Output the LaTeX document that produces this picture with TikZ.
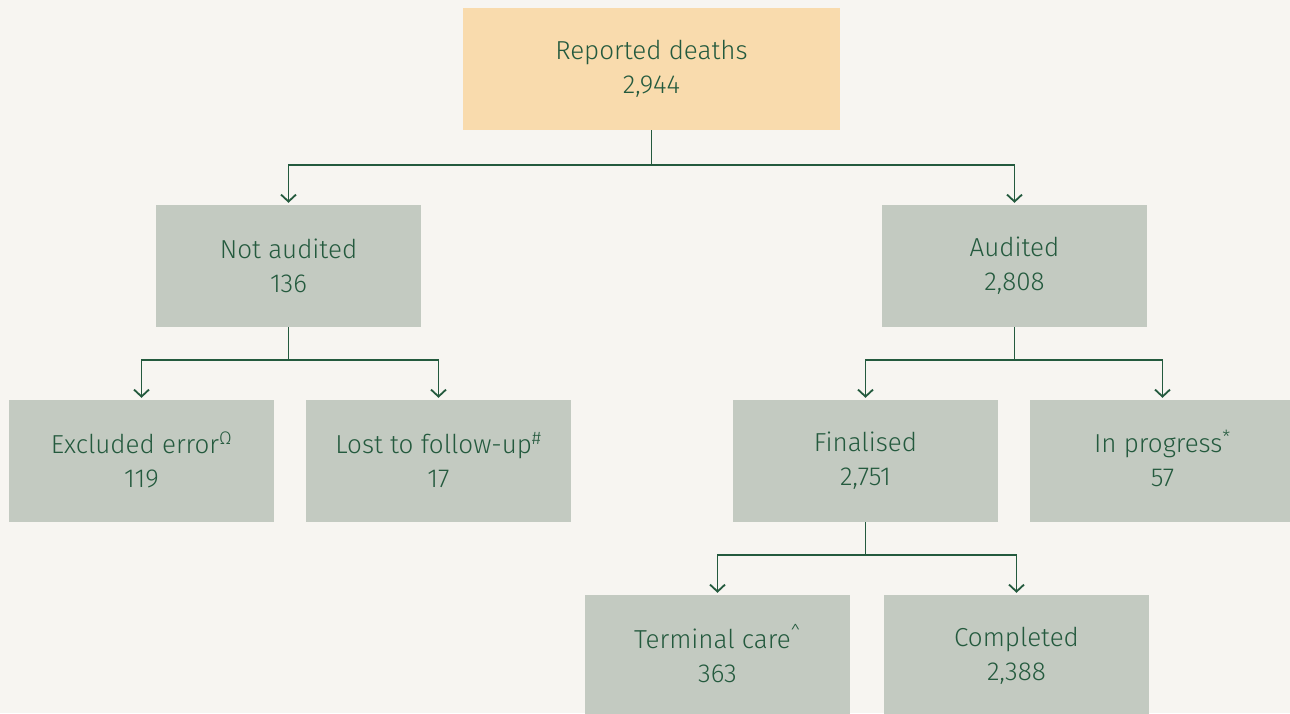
\documentclass[tikz,border=0pt]{standalone}
\usepackage{fontspec}
\setmainfont{Fira Sans}[UprightFont={* Light}]
\usetikzlibrary{arrows.meta}
\definecolor{bg}{HTML}{F7F5F1}
\definecolor{boxg}{HTML}{C3CAC1}
\definecolor{boxo}{HTML}{F9DBAD}
\definecolor{ink}{HTML}{245A3E}
\newcommand{\fnmark}[1]{\smash{\textsuperscript{#1}}}
\begin{document}
\begin{tikzpicture}[x=1pt,y=-1pt,
  box/.style={fill=boxg, minimum width=265pt, minimum height=122pt, inner sep=0pt, text=ink, align=center, font=\fontsize{26}{34}\selectfont},
  conn/.style={draw=ink, line width=1.8pt},
  arr/.style={conn, -{Straight Barb[length=7pt,width=15pt]}, shorten >=2pt}]
\useasboundingbox (0,0) rectangle (1290,713);
\clip (0,0) rectangle (1290,713);
\fill[bg] (0,0) rectangle (1290,713);
\node[box, fill=boxo, minimum width=377pt] (rep) at (651.5,69) {Reported deaths\\2,944};
\node[box] (na) at (288.5,266) {Not audited\\136};
\node[box] (au) at (1014.5,266) {Audited\\2,808};
\node[box] (ex) at (141.5,461) {Excluded error\fnmark{Ω}\\119};
\node[box] (lo) at (438.5,461) {Lost to follow-up\fnmark{\#}\\17};
\node[box] (fi) at (865.5,461) {Finalised\\2,751};
\node[box] (ip) at (1162.5,461) {In progress\fnmark{*}\\57};
\node[box] (te) at (717.5,656) {Terminal care\fnmark{\char"5E}\\363};
\node[box] (co) at (1016.5,656) {Completed\\2,388};
% connectors
\draw[conn] (rep.south) -- ++(0,35) coordinate (j1);
\draw[arr] (j1) -| (na.north);
\draw[arr] (j1) -| (au.north);
\draw[conn] (na.south) -- ++(0,33) coordinate (j2);
\draw[arr] (j2) -| (ex.north);
\draw[arr] (j2) -| (lo.north);
\draw[conn] (au.south) -- ++(0,33) coordinate (j3);
\draw[arr] (j3) -| (fi.north);
\draw[arr] (j3) -| (ip.north);
\draw[conn] (fi.south) -- ++(0,33) coordinate (j4);
\draw[arr] (j4) -| (te.north);
\draw[arr] (j4) -| (co.north);
\end{tikzpicture}
\end{document}
